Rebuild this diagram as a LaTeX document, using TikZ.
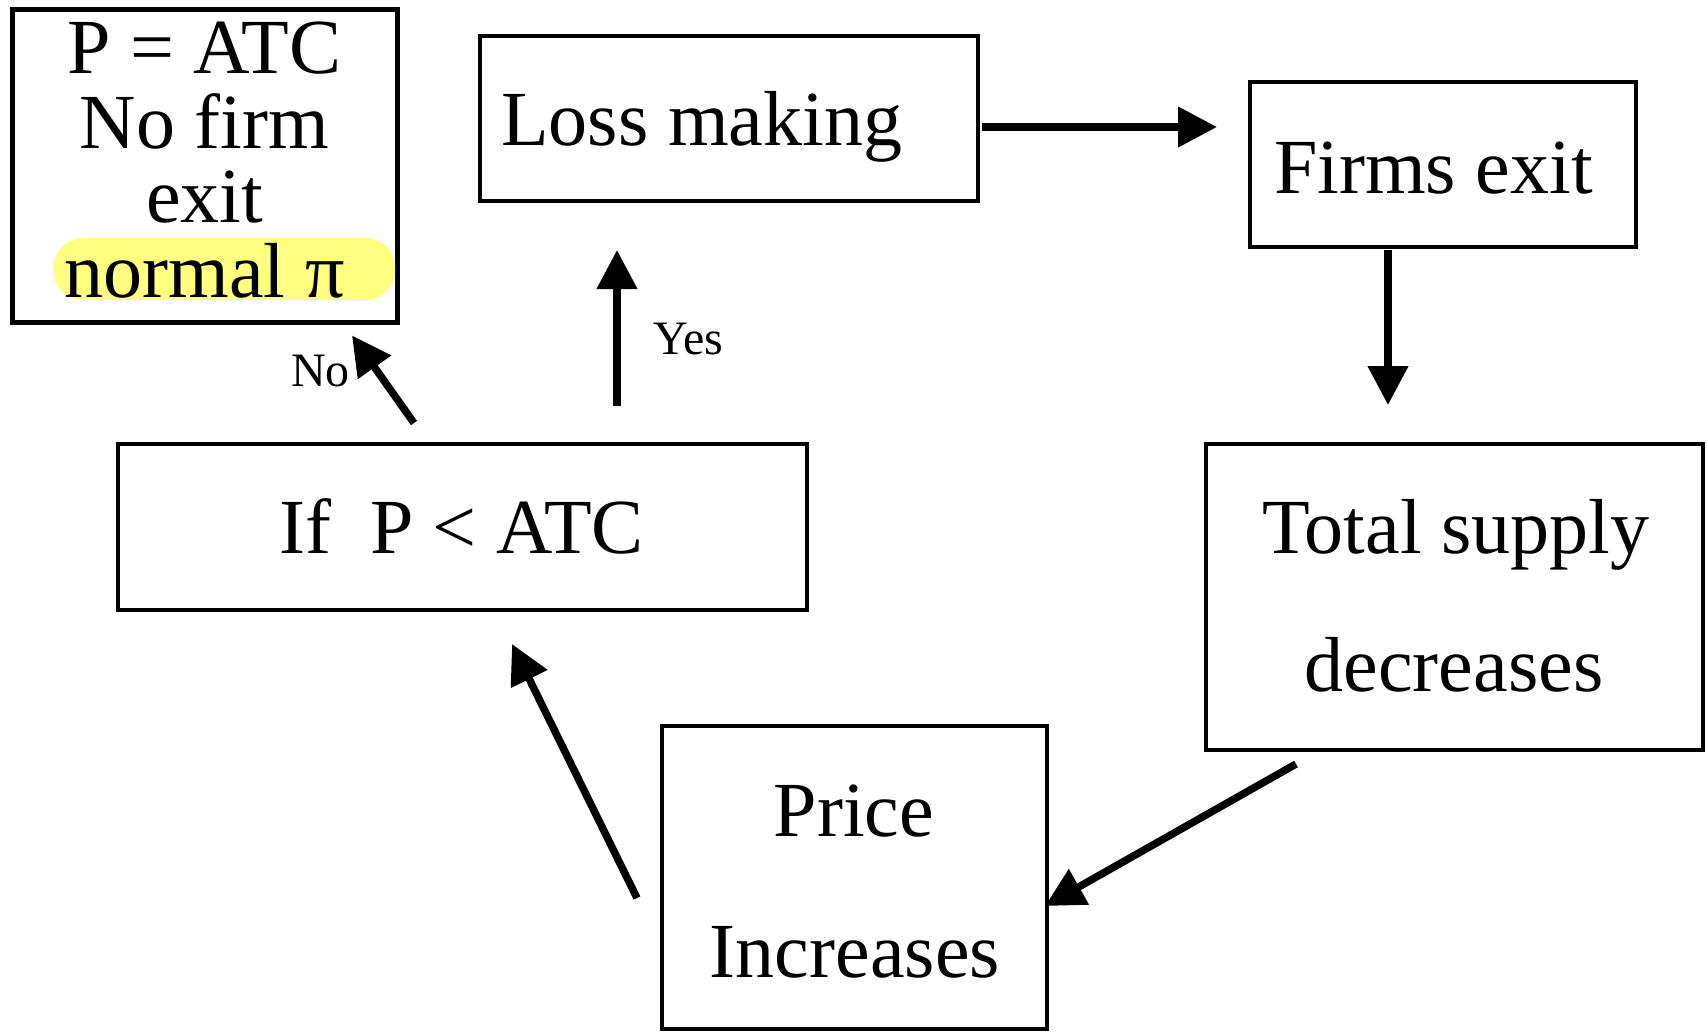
\documentclass[tikz,border=0pt]{standalone}
\usepackage{fontspec}
\setmainfont{Liberation Serif}
\usetikzlibrary{arrows.meta,calc}
\definecolor{hl}{HTML}{FFFF80}
\begin{document}
\begin{tikzpicture}[x=1pt,y=-1pt,
  box/.style={draw=black,line width=4pt,inner sep=0pt,fill=none},
  txt/.style={inner sep=0pt,anchor=base,font=\fontsize{78}{78}\selectfont},
  txtw/.style={txt,anchor=base west},
  lbl/.style={inner sep=0pt,anchor=base west,font=\fontsize{48}{48}\selectfont},
  arr/.style={line width=7.5pt,-{Triangle[length=39pt,width=39pt]}}]
\useasboundingbox (0,0) rectangle (1707,1031);
% highlight
\fill[hl,rounded corners=30pt] (53,238) rectangle (395,300);
% boxes
\node[box,line width=5pt,minimum width=385pt,minimum height=313pt] (A) at (204.5,165.5) {};
\node[box,minimum width=498pt,minimum height=165pt] (B) at (729,118.5) {};
\node[box,minimum width=386pt,minimum height=165pt] (F) at (1443,164.5) {};
\node[box,minimum width=497pt,minimum height=306pt] (T) at (1454.5,597) {};
\node[box,minimum width=385pt,minimum height=303pt] (P) at (854.5,877.5) {};
\node[box,minimum width=689pt,minimum height=166pt] (I) at (462.5,527) {};
% texts
\node[txt] (a1) at (204.5,73) {P = ATC};
\node[txt] (a2) at (204.5,148) {No firm};
\node[txt] (a3) at (204.5,222) {exit};
\node[txt] (a4) at (204.5,297) {normal π};
\node[txtw] (b1) at (501,145) {Loss making};
\node[txtw] (f1) at (1274,193) {Firms exit};
\node[txt] (i1) at (461.5,553) {If\ \ P < ATC};
\node[txt] (t1) at (1456,553) {Total supply};
\node[txt] (t2) at (1454,691) {decreases};
\node[txt] (p1) at (854,836) {Price};
\node[txt] (p2) at (855,977) {Increases};
\node[lbl] (yes) at (653,354) {Yes};
\node[lbl] (no) at (291,386) {No};
% arrows
\draw[arr] ($(B.east)+(2,8.5)$) -- ($(F.west)+(-31,-37.5)$);
\draw[arr] ($(F.south)+(-55,1)$) -- ($(T.north)+(-66.5,-37)$);
\draw[arr] ($(T.south)+(-158.5,12)$) -- ($(P.east)+(-4,28.5)$);
\draw[arr] ($(P.west)+(-23,20.5)$) -- ($(I.south)+(49.5,32)$);
\draw[arr] ($(I.north)+(154.5,-36)$) -- ($(B.south)+(-112,47)$);
\draw[arr] ($(I.north)+(-48.5,-19)$) -- ($(A.south)+(147.5,11)$);
\end{tikzpicture}
\end{document}
